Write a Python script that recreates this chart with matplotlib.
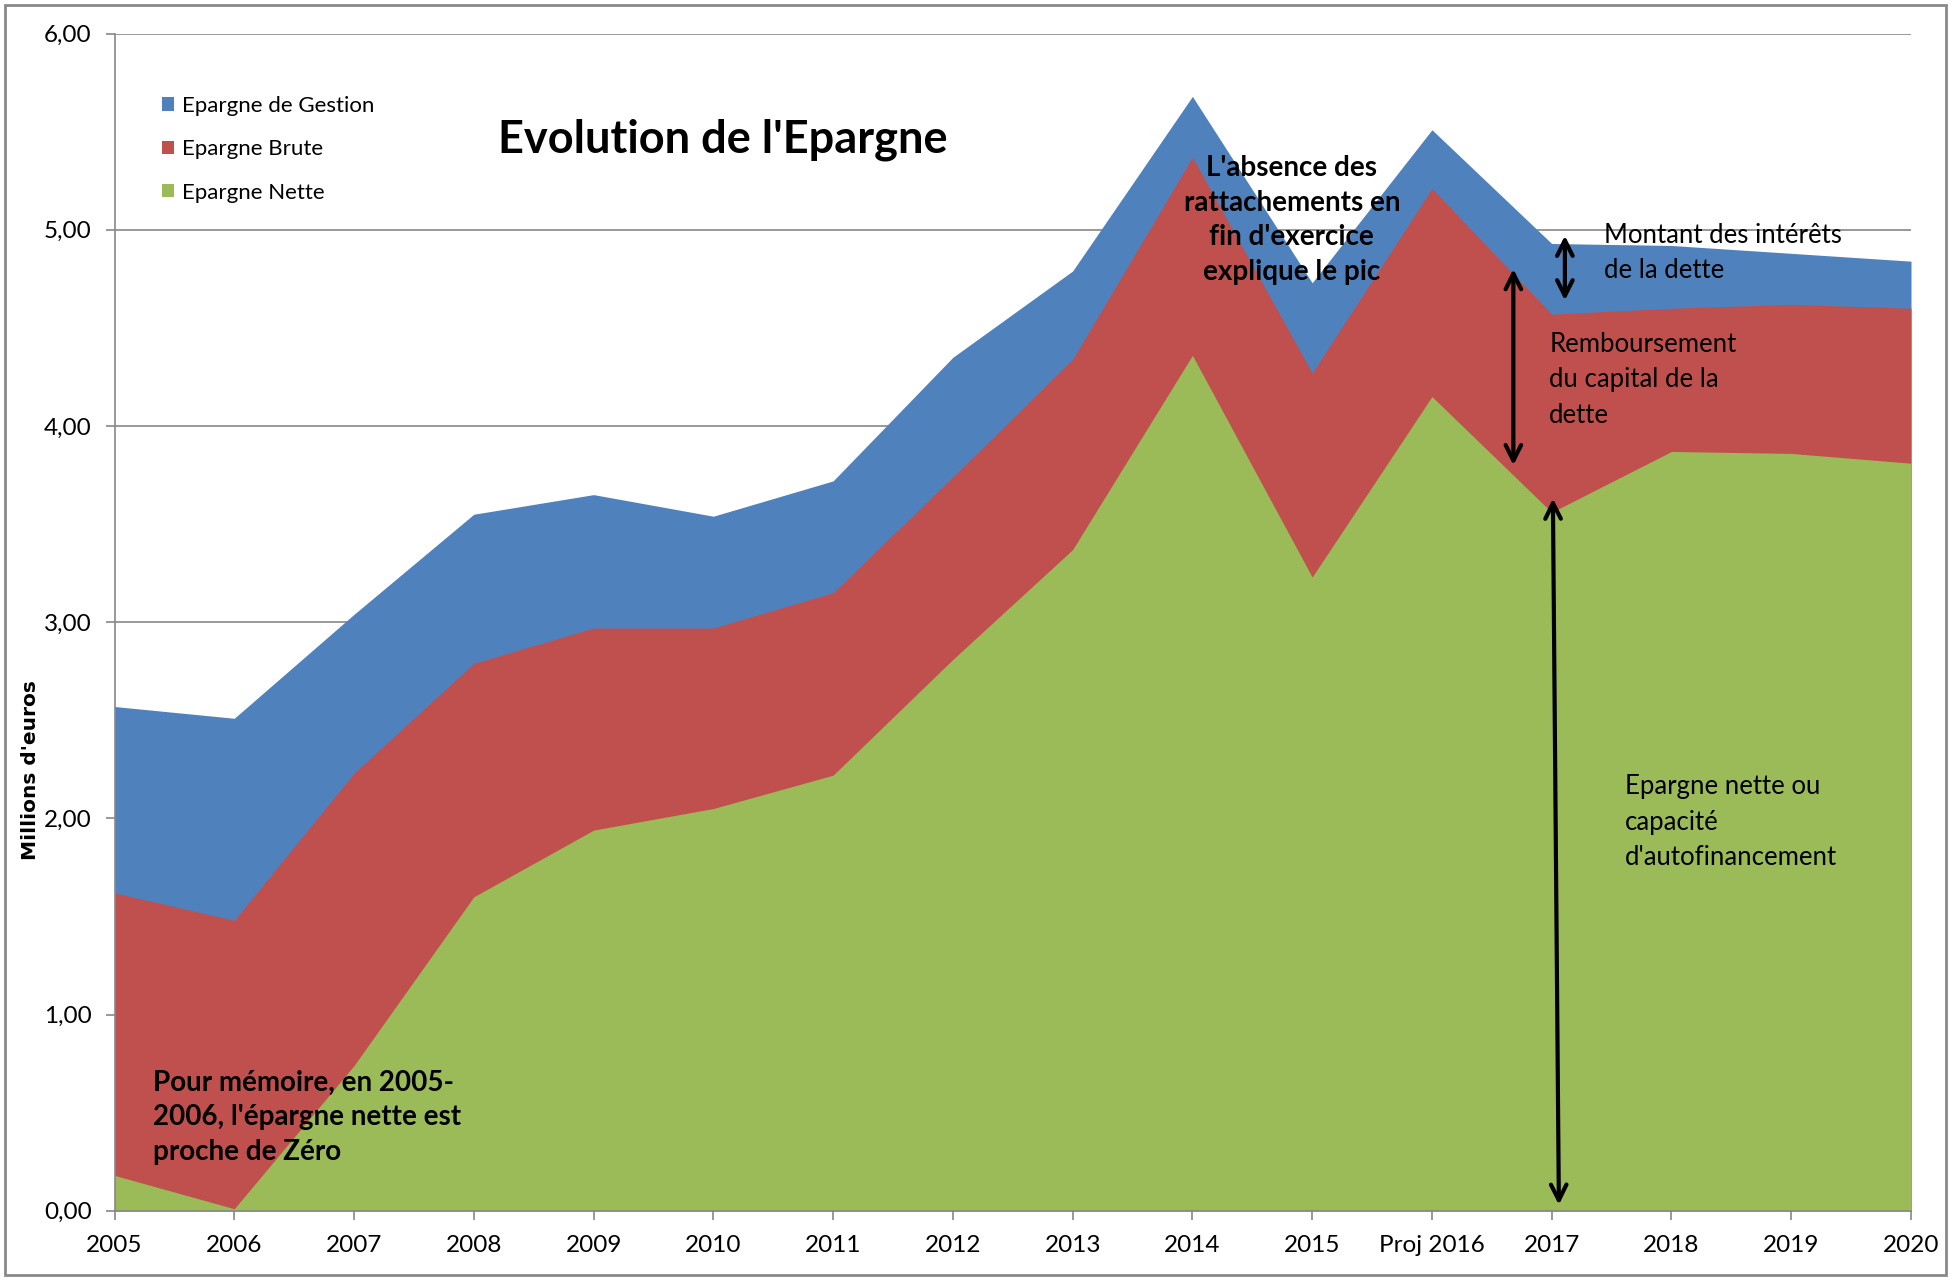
import matplotlib
matplotlib.use("Agg")
from matplotlib import pyplot as plt
from matplotlib.patches import Rectangle
from matplotlib.ticker import FuncFormatter

# data (millions d'euros)
annees = ["2005", "2006", "2007", "2008", "2009", "2010", "2011", "2012",
          "2013", "2014", "2015", "Proj 2016", "2017", "2018", "2019", "2020"]
epargne_gestion = [2.57, 2.51, 3.04, 3.55, 3.65, 3.54, 3.72, 4.35,
                   4.79, 5.68, 4.73, 5.51, 4.93, 4.92, 4.88, 4.84]
epargne_brute = [1.62, 1.48, 2.23, 2.79, 2.97, 2.97, 3.15, 3.74,
                 4.34, 5.37, 4.27, 5.21, 4.57, 4.60, 4.62, 4.60]
epargne_nette = [0.18, 0.01, 0.74, 1.60, 1.94, 2.05, 2.22, 2.81,
                 3.37, 4.36, 3.23, 4.15, 3.56, 3.87, 3.86, 3.81]

BLUE = "#4F81BD"
RED = "#C0504D"
GREEN = "#9BBB59"
GRID = "#878787"

plt.rcParams['font.family'] = ['Lato', 'DejaVu Sans']

W, H = 1951, 1280
fig = plt.figure(figsize=(W / 100, H / 100), dpi=100)
ax = fig.add_axes([114.5 / W, 1 - 1210.7 / H, (1911 - 114.5) / W, (1210.7 - 33.6) / H])

x = list(range(len(annees)))
ax.fill_between(x, 0, epargne_gestion, color=BLUE, lw=0, label="Epargne de Gestion")
ax.fill_between(x, 0, epargne_brute, color=RED, lw=0, label="Epargne Brute")
ax.fill_between(x, 0, epargne_nette, color=GREEN, lw=0, label="Epargne Nette")

ax.set_xlim(0, len(annees) - 1)
ax.set_ylim(0, 6)
ax.set_xticks(x)
ax.set_xticklabels(annees)
ax.set_yticks([0, 1, 2, 3, 4, 5, 6])
ax.yaxis.set_major_formatter(FuncFormatter(lambda v, p: f"{v:.2f}".replace(".", ",")))
ax.tick_params(axis='both', labelsize=17.5, color=GRID, length=6.5, width=1.2, direction='out')
ax.tick_params(axis='x', pad=11)
ax.tick_params(axis='y', pad=10)
ax.set_axisbelow(True)
ax.yaxis.grid(True, color=GRID, lw=1.2)
for s in ['top', 'right']:
    ax.spines[s].set_visible(False)
for s in ['left', 'bottom']:
    ax.spines[s].set_color(GRID)
    ax.spines[s].set_linewidth(1.2)

fig.text(31 / W, 1 - 770 / H, "Millions d'euros", rotation=90, ha='center', va='center',
         fontsize=14.5, fontweight='bold', family='DejaVu Sans')

# legend
fig.legend(loc='upper left', bbox_to_anchor=(153 / W, 1 - 87 / H), frameon=False,
           fontsize=16, handlelength=0.55, handleheight=0.55, handletextpad=0.35,
           labelspacing=1.05, borderaxespad=0)

# title
fig.text(498 / W, 1 - 140 / H, "Evolution de l'Epargne", fontsize=32.5, fontweight='bold',
         ha='left', va='center')

# annotations
ax.text(0.32, 0.476, "Pour mémoire, en 2005-\n2006, l'épargne nette est\nproche de Zéro",
        fontsize=20, fontweight='bold', ha='left', va='center', linespacing=1.42)
ax.text(9.83, 5.05, "L'absence des\nrattachements en\nfin d'exercice\nexplique le pic",
        fontsize=20, fontweight='bold', ha='center', va='center', linespacing=1.42)
ax.text(12.44, 4.88, "Montant des intérêts\nde la dette", fontsize=18.5,
        ha='left', va='center', linespacing=1.5)
ax.text(11.98, 4.235, "Remboursement\ndu capital de la\ndette", fontsize=18.5,
        ha='left', va='center', linespacing=1.52)
ax.text(12.61, 1.98, "Epargne nette ou\ncapacité\nd'autofinancement", fontsize=18.5,
        ha='left', va='center', linespacing=1.52)

arrow = dict(arrowstyle='<->', lw=3, color='black', mutation_scale=28,
             shrinkA=0, shrinkB=0)
ax.annotate("", xy=(12.11, 4.64), xytext=(12.11, 4.97), arrowprops=arrow)
ax.annotate("", xy=(11.68, 3.80), xytext=(11.68, 4.80), arrowprops=arrow)
ax.annotate("", xy=(12.06, 0.03), xytext=(12.01, 3.63), arrowprops=arrow)

# chart border
fig.add_artist(Rectangle((5 / W, 5 / H), (W - 10) / W, (H - 10) / H,
                         transform=fig.transFigure, fill=False, ec='#8a8a8a', lw=2))

fig.savefig("out.png", dpi=100)
